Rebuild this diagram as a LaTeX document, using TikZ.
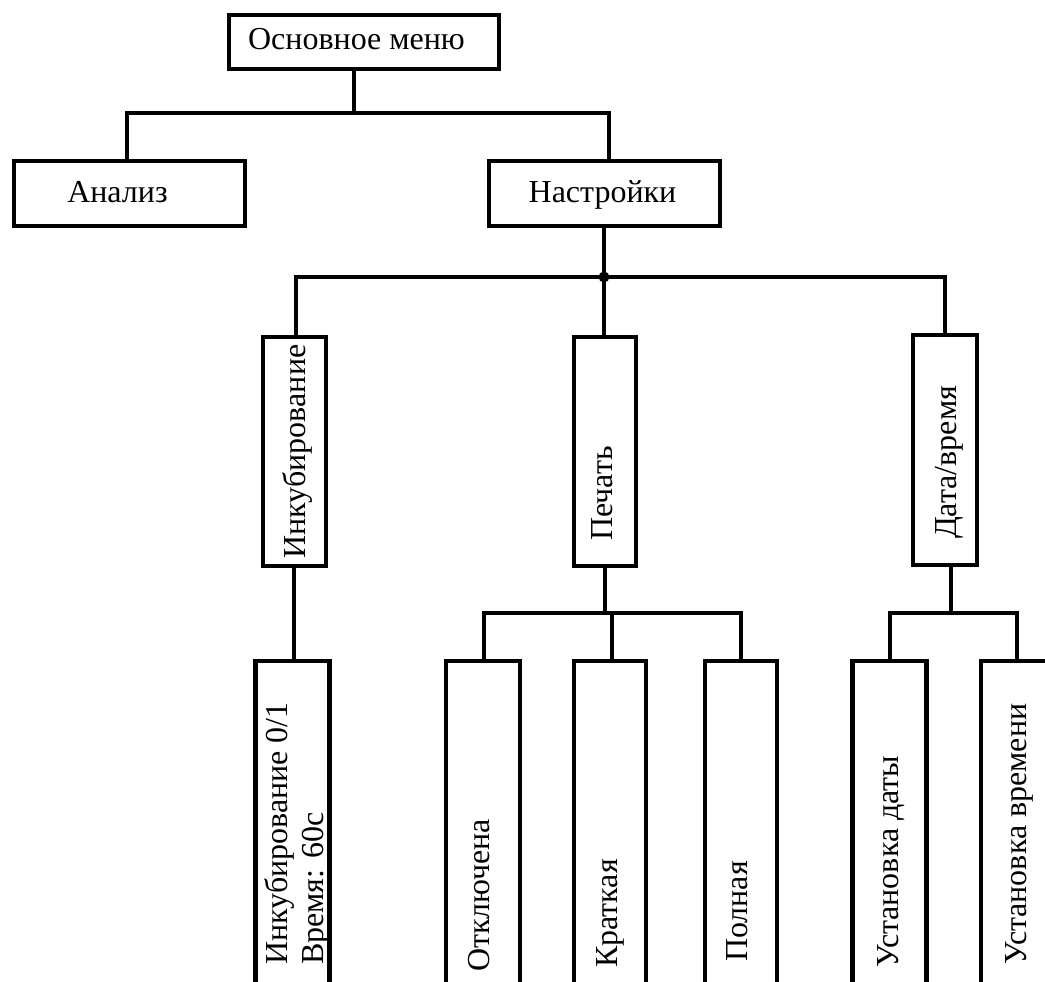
\documentclass[tikz,border=0pt]{standalone}
\usepackage{fontspec}
\setmainfont{Liberation Serif}
\begin{document}
\begin{tikzpicture}[x=1pt,y=-1pt,
  box/.style={draw, line width=4.8pt, inner sep=0pt, fill=white},
  lbl/.style={font=\fontsize{32}{36}\selectfont, inner sep=0pt},
  vlbl/.style={lbl, rotate=90, anchor=base west},
  conn/.style={line width=4.6pt, line cap=rect, line join=miter}]
\useasboundingbox (0,0) rectangle (1045,982);
\fill[white] (0,0) rectangle (1045,982);
\begin{scope}
\clip (0,0) rectangle (1045,982);
% boxes
\node[box, minimum width=270pt, minimum height=54pt] (root) at (364,42) {};
\node[box, minimum width=231pt, minimum height=65pt] (analiz) at (129.5,193.5) {};
\node[box, minimum width=231pt, minimum height=65pt] (nastr) at (604.5,193.5) {};
\node[box, minimum width=63pt, minimum height=229pt] (inkub) at (294.5,451.5) {};
\node[box, minimum width=62pt, minimum height=229pt] (pechat) at (605,451.5) {};
\node[box, minimum width=64pt, minimum height=230pt] (data) at (945,450) {};
\node[box, minimum width=74pt, minimum height=323pt] (b1) at (292.5,822.5) {};
\node[box, minimum width=74pt, minimum height=323pt] (otkl) at (483,822.5) {};
\node[box, minimum width=72pt, minimum height=323pt] (krat) at (610,822.5) {};
\node[box, minimum width=72pt, minimum height=323pt] (poln) at (741,822.5) {};
\node[box, minimum width=74pt, minimum height=323pt] (ustd) at (889.5,822.5) {};
\node[box, minimum width=74pt, minimum height=323pt] (ustv) at (1018,822.5) {};
% junctions
\coordinate (j1) at (354,113);
\coordinate (aL) at (127,113);
\coordinate (aR) at (609,113);
\coordinate (j2) at (604,277);
\coordinate (j2L) at (296,277);
\coordinate (j2R) at (945,277);
\coordinate (j3) at (605,613);
\coordinate (j3L) at (484,613);
\coordinate (j3M) at (612,613);
\coordinate (j3R) at (741,613);
\coordinate (j4) at (951,613);
\coordinate (j4L) at (890,613);
\coordinate (j4R) at (1017,613);
% connectors
\draw[conn] (root.south -| j1) -- (j1);
\draw[conn] (analiz.north -| aL) -- (aL) -- (aR) -- (nastr.north -| aR);
\draw[conn] (nastr.south -| j2) -- (j2);
\draw[conn] (inkub.north -| j2L) -- (j2L) -- (j2R) -- (data.north -| j2R);
\draw[conn] (j2) -- (pechat.north -| j2);
\fill (j2) circle (5.5pt);
\draw[conn] (inkub.south -| 294,0) -- (b1.north -| 294,0);
\draw[conn] (pechat.south -| j3) -- (j3);
\draw[conn] (otkl.north -| j3L) -- (j3L) -- (j3R) -- (poln.north -| j3R);
\draw[conn] (j3M) -- (krat.north -| j3M);
\draw[conn] (data.south -| j4) -- (j4);
\draw[conn] (ustd.north -| j4L) -- (j4L) -- (j4R) -- (ustv.north -| j4R);
% labels
\node[lbl, anchor=base] (troot) at (356.5,50) {Основное меню};
\node[lbl, anchor=base] (tanaliz) at (117.5,202) {Анализ};
\node[lbl, anchor=base] (tnastr) at (602.5,202) {Настройки};
\node[lbl, rotate=90, anchor=base] (tinkub) at (305,451.5) {Инкубирование};
\node[lbl, rotate=90, anchor=base] (tpechat) at (612,493.5) {Печать};
\node[lbl, rotate=90, anchor=base] (tdata) at (956,462.5) {Дата/время};
\node[vlbl, align=left, anchor=north west] (tb1) at (264,965) {Инкубирование 0/1\\Время: 60с};
\node[vlbl] (totkl) at (489,972) {Отключена};
\node[vlbl] (tkrat) at (617,968) {Краткая};
\node[vlbl] (tpoln) at (747,962) {Полная};
\node[vlbl] (tustd) at (898,968) {Установка даты};
\node[vlbl] (tustv) at (1026,965) {Установка времени};
\end{scope}
\end{tikzpicture}
\end{document}
